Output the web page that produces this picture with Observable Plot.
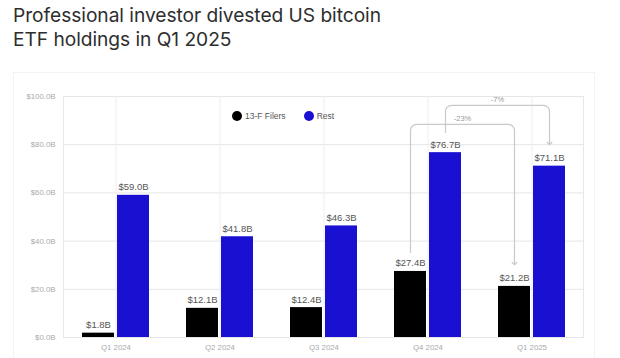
<!DOCTYPE html>
<html><head><meta charset="utf-8">
<script src="https://cdn.jsdelivr.net/npm/d3@7"></script>
<script src="https://cdn.jsdelivr.net/npm/@observablehq/plot@0.6"></script>
<style>
body{margin:0;background:#fff;width:620px;height:358px;overflow:hidden;position:relative;font-family:Inter,"Liberation Sans",sans-serif}
#panel{position:absolute;left:13px;top:72px;width:582px;height:300px;border:1px solid #f3f3f3;box-sizing:border-box}
#title{position:absolute;left:13px;top:4px;font-size:19.2px;color:#2e2e2e;font-weight:400;letter-spacing:-0.05px}
#title div{height:23.5px;line-height:23.5px;white-space:nowrap}
#chart{position:absolute;left:0;top:60px}
#legend{position:absolute;top:111px;left:232px;font-family:"Liberation Sans",Arial,sans-serif;font-size:8.5px;color:#555;display:flex;align-items:center}
#legend span.sw{display:inline-block;width:10px;height:10px;border-radius:50%;margin-right:3px}
#legend .item{display:flex;align-items:center;margin-right:18px}
</style></head>
<body>
<div id="panel"></div>
<div id="title"><div>Professional investor divested US bitcoin</div><div>ETF holdings in Q1 2025</div></div>
<div id="chart"></div>
<div id="legend"></div>
<script>
const quarters = ["Q1 2024","Q2 2024","Q3 2024","Q4 2024","Q1 2025"];
const filers = [1.8, 12.1, 12.4, 27.4, 21.2];
const rest = [59.0, 41.8, 46.3, 76.7, 71.1];
const yTicks = [0, 20, 40, 60, 80, 100];
const seriesNames = ["13-F Filers", "Rest"];
const seriesColors = ["#000000", "#1a10d2"];
// annotation brackets (from Q4 2024 to Q1 2025)
const changeLabels = ["-23%", "-7%"];
const changeSeries = ["13-F Filers", "Rest"];
const bracketStart = [35.3, 85.1];
const bracketTop = [88.4, 96.3];
const bracketEnd = [30.7, 80.5];

const filersData = quarters.map((q, i) => ({q, v: filers[i]}));
const restData = quarters.map((q, i) => ({q, v: rest[i]}));

const OFF = 17.5; // offset of each bar's centre from its band centre
function roundedCurve(r) {
  return (context) => {
    let pts;
    return {
      lineStart() { pts = []; },
      point(x, y) { pts.push([+x, +y]); },
      lineEnd() {
        if (!pts.length) return;
        context.moveTo(pts[0][0], pts[0][1]);
        for (let i = 1; i < pts.length - 1; i++) {
          context.arcTo(pts[i][0], pts[i][1], pts[i+1][0], pts[i+1][1], r);
        }
        const l = pts[pts.length - 1];
        context.lineTo(l[0], l[1]);
      },
      areaStart() {}, areaEnd() {}
    };
  };
}

const bracketMarks = changeLabels.flatMap((lab, i) => {
  const pts = [
    {q: "Q4 2024", v: bracketStart[i]},
    {q: "Q4 2024", v: bracketTop[i]},
    {q: "Q1 2025", v: bracketTop[i]},
    {q: "Q1 2025", v: bracketEnd[i]}
  ];
  const dx = changeSeries[i] === "Rest" ? OFF : -OFF;
  return [
    Plot.line(pts, {x: "q", y: "v", dx, stroke: "#c9c9c9", strokeWidth: 1.2, curve: roundedCurve(6), markerEnd: "arrow"}),
    Plot.text([{q: "Q4 2024", v: bracketTop[i], t: lab}], {x: "q", y: "v", text: "t", dx: dx + 52, dy: -6, fill: "#999", fontSize: 7.5})
  ];
});

const chart = Plot.plot({
  width: 620, height: 298,
  marginTop: 36, marginBottom: 21, marginLeft: 63, marginRight: 37,
  style: {fontFamily: "'Liberation Sans', Arial, sans-serif", fontSize: "7px", color: "#aaa", background: "transparent"},
  x: {domain: quarters, paddingInner: 1 - 67/104, paddingOuter: (1 - 67/104)/2, label: null},
  y: {domain: [0, 100], label: null},
  marks: [
    Plot.frame({stroke: "#e8e8e8"}),
    Plot.gridY(yTicks, {stroke: "#e6e6e6", strokeOpacity: 1}),
    Plot.gridX({stroke: "#eeeeee", strokeOpacity: 1}),
    Plot.axisY(yTicks, {tickSize: 0, tickPadding: 8, tickFormat: d => `$${d.toFixed(1)}B`, fill: "#aaa", fontSize: 7.8}),
    Plot.axisX({tickSize: 0, tickPadding: 7, fill: "#aaa", fontSize: 7.8, label: null}),
    Plot.barY(filersData, {x: "q", y: "v", fill: seriesColors[0], insetRight: 35}),
    Plot.barY(restData, {x: "q", y: "v", fill: seriesColors[1], insetLeft: 35}),
    Plot.text(filersData, {x: "q", y: "v", text: d => `$${d.v.toFixed(1)}B`, dx: -OFF, dy: -5, lineAnchor: "bottom", fill: "#555", fontSize: 9.5}),
    Plot.text(restData, {x: "q", y: "v", text: d => `$${d.v.toFixed(1)}B`, dx: OFF, dy: -5, lineAnchor: "bottom", fill: "#555", fontSize: 9.5}),
    ...bracketMarks
  ]
});
document.getElementById("chart").append(chart);

const legend = document.getElementById("legend");
seriesNames.forEach((n, i) => {
  const it = document.createElement("div");
  it.className = "item";
  it.innerHTML = `<span class="sw" style="background:${seriesColors[i]}"></span>${n}`;
  legend.append(it);
});
</script>
</body></html>
